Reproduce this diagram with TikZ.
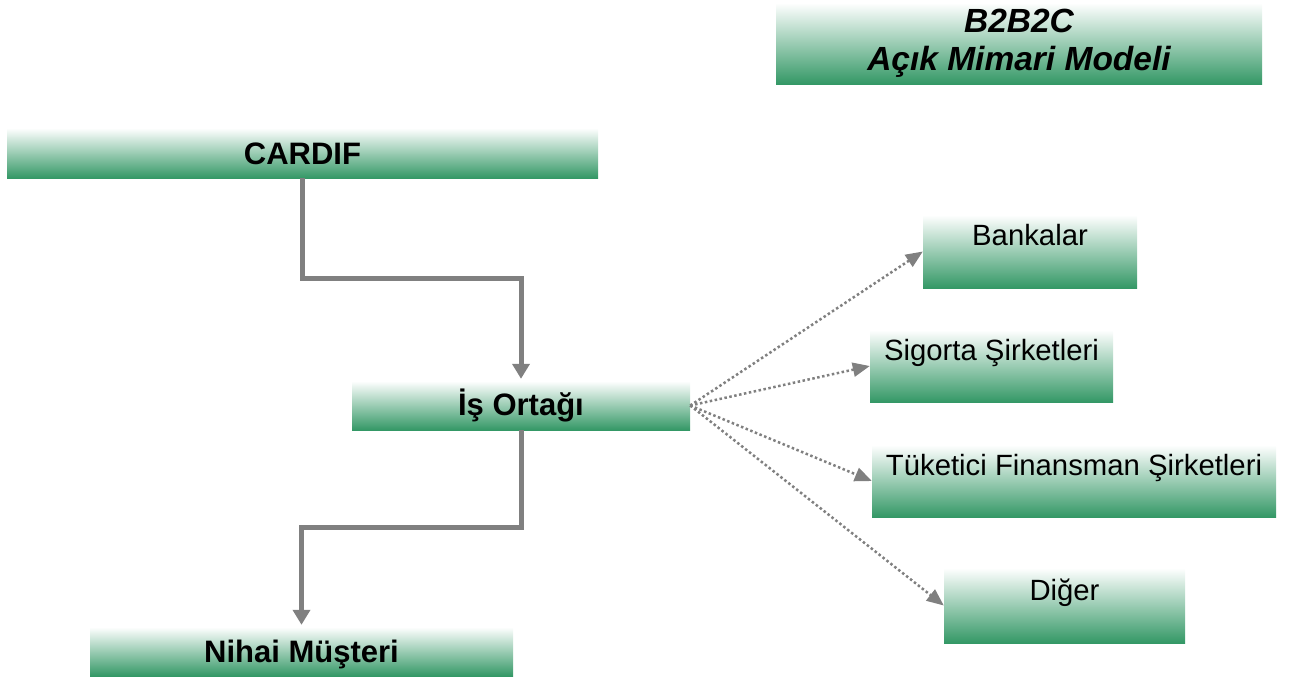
\documentclass[tikz,border=0pt]{standalone}
\usepackage{fontspec}
\setmainfont{Liberation Sans}
\usetikzlibrary{arrows.meta}
\definecolor{boxgreen}{RGB}{52,152,102}
\definecolor{linegray}{RGB}{128,128,128}
\begin{document}
\begin{tikzpicture}[x=1pt,y=-1pt,
  gbox/.style={rectangle,inner sep=0pt,top color=white,bottom color=boxgreen,draw=none},
  boldtxt/.style={anchor=base,inner sep=0pt,font=\fontsize{31}{37}\selectfont\bfseries},
  titletxt/.style={anchor=base,inner sep=0pt,font=\fontsize{33.5}{40}\selectfont\bfseries\itshape},
  regtxt/.style={anchor=base,inner sep=0pt,font=\fontsize{29.3}{35}\selectfont},
  solidarrow/.style={draw=linegray,line width=5pt,-{Triangle[length=15pt,width=17pt]},shorten >=2pt},
  dotarrow/.style={draw=linegray,line width=2.5pt,dash pattern=on 2.5pt off 2.5pt,-{Triangle[length=17pt,width=14pt]}}
]
\useasboundingbox (0,0) rectangle (1289,678);
% boxes
\node[gbox,minimum width=486pt,minimum height=81pt] (title) at (1019,43.5) {};
\node[gbox,minimum width=591pt,minimum height=50pt] (cardif) at (302.5,153) {};
\node[gbox,minimum width=338pt,minimum height=49pt] (is) at (521,405.5) {};
\node[gbox,minimum width=423pt,minimum height=49pt] (nihai) at (301.5,651.5) {};
\node[gbox,minimum width=214pt,minimum height=73pt] (bank) at (1030,251.5) {};
\node[gbox,minimum width=243pt,minimum height=72pt] (sig) at (991.5,366) {};
\node[gbox,minimum width=404pt,minimum height=72pt] (tuk) at (1074,481) {};
\node[gbox,minimum width=241pt,minimum height=75pt] (diger) at (1064.5,605.5) {};
% texts
\node[titletxt] (t1) at (1019,32) {B2B2C};
\node[titletxt] (t2) at (1019,70) {Açık Mimari Modeli};
\node[boldtxt] (cardift) at (302.5,164) {CARDIF};
\node[boldtxt] (ist) at (521,415) {İş Ortağı};
\node[boldtxt] (nihait) at (301.5,662) {Nihai Müşteri};
\node[regtxt] (bankt) at (1030,245.5) {Bankalar};
\node[regtxt] (sigt) at (991.5,360) {Sigorta Şirketleri};
\node[regtxt] (tukt) at (1074,475) {Tüketici Finansman Şirketleri};
\node[regtxt] (digert) at (1064.5,600) {Diğer};
% connectors
\coordinate (k1) at (302.5,278);
\coordinate (k2) at (521,527);
\draw[solidarrow] (cardif.south) -- (k1) -| (is.north);
\draw[solidarrow] (is.south) -- (k2) -| (nihai.north);
\draw[dotarrow] (is.east) -- (bank.west);
\draw[dotarrow] (is.east) -- (sig.west);
\draw[dotarrow] (is.east) -- (tuk.west);
\draw[dotarrow] (is.east) -- (diger.west);
\end{tikzpicture}
\end{document}
